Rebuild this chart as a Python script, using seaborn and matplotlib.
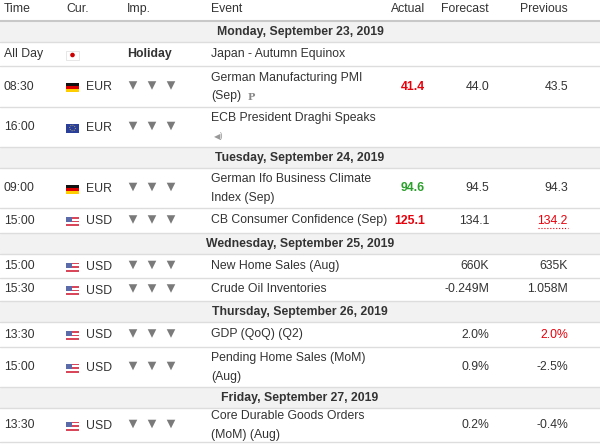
import matplotlib
matplotlib.use("Agg")
import matplotlib.pyplot as plt
import matplotlib.patches as patches
import seaborn as sns
import pandas as pd

sns.set_theme(style="white", font="Liberation Sans")

# data
headers = ["Time", "Cur.", "Imp.", "Event", "Actual", "Forecast", "Previous"]
day_labels = ["Monday, September 23, 2019", "Tuesday, September 24, 2019",
              "Wednesday, September 25, 2019", "Thursday, September 26, 2019",
              "Friday, September 27, 2019"]
row_day = [0, 0, 0, 1, 1, 2, 2, 3, 3, 4]
times = ["All Day", "08:30", "16:00", "09:00", "15:00", "15:00", "15:30", "13:30", "15:00", "13:30"]
flags = ["JP", "DE", "EU", "DE", "US", "US", "US", "US", "US", "US"]
currencies = ["", "EUR", "EUR", "EUR", "USD", "USD", "USD", "USD", "USD", "USD"]
events = ["Japan - Autumn Equinox", "German Manufacturing PMI\n(Sep)", "ECB President Draghi Speaks\n",
          "German Ifo Business Climate\nIndex (Sep)", "CB Consumer Confidence (Sep)",
          "New Home Sales (Aug)", "Crude Oil Inventories", "GDP (QoQ) (Q2)",
          "Pending Home Sales (MoM)\n(Aug)", "Core Durable Goods Orders\n(MoM) (Aug)"]
actuals = ["", "41.4", "", "94.6", "125.1", "", "", "", "", ""]
actual_tone = ["", "bad", "", "good", "bad", "", "", "", "", ""]
forecasts = ["", "44.0", "", "94.5", "134.1", "660K", "-0.249M", "2.0%", "0.9%", "0.2%"]
previous = ["", "43.5", "", "94.3", "134.2", "635K", "1.058M", "2.0%", "-2.5%", "-0.4%"]
previous_tone = ["", "", "", "", "bad", "", "", "bad", "", ""]
row_heights = [24, 41, 40, 40, 25, 24, 23, 25, 40, 34]

df = pd.DataFrame({"day": row_day, "time": times, "flag": flags, "cur": currencies,
                   "event": events, "actual": actuals, "atone": actual_tone,
                   "forecast": forecasts, "previous": previous, "ptone": previous_tone,
                   "h": row_heights})

W, H = 600, 447
fig = plt.figure(figsize=(6, 4.47), dpi=100)
ax = fig.add_axes([0, 0, 1, 1])
ax.set_xlim(0, W)
ax.set_ylim(H, 0)
ax.axis("off")

txt = "#333333"
tone_col = {"bad": "#e8000b", "good": "#2ca02c", "": txt}
fs = 8.8

hx = [4, 66, 127, 211, 425, 489, 568]
for i, h in enumerate(headers):
    ha = "right" if i >= 4 else "left"
    ax.text(hx[i], 9, h, ha=ha, va="center", fontsize=fs, color=txt)
ax.plot([0, W], [20.5, 20.5], color="#c8c8c8", lw=1.5)


def flag(x, y, kind):
    if kind == "DE":
        for k, c in enumerate(["#111111", "#dd0000", "#ffce00"]):
            ax.add_patch(patches.Rectangle((x, y - 4.5 + k * 3), 13, 3, color=c, lw=0))
    elif kind == "EU":
        ax.add_patch(patches.Rectangle((x, y - 4.5), 13, 9, color="#2a3f99", lw=0))
        ax.add_patch(patches.Circle((x + 6.5, y), 2.8, fill=False, ec="#e8d24a", lw=0.6, ls=":"))
    elif kind == "US":
        for k in range(5):
            ax.add_patch(patches.Rectangle((x, y - 4.5 + k * 1.8), 13, 1.8,
                                           color="#d9485a" if k % 2 == 0 else "#ffffff", lw=0))
        ax.add_patch(patches.Rectangle((x, y - 4.5), 6, 5, color="#5b6aa8", lw=0))
    elif kind == "JP":
        ax.add_patch(patches.Rectangle((x, y - 4.5), 13, 9, fc="#ffffff", ec="#dddddd", lw=0.5))
        ax.add_patch(patches.Circle((x + 6.5, y), 2.3, color="#cc0000", lw=0))


y = 21
bull_x, bull_y = [], []
prev_day = -1
for _, r in df.iterrows():
    if r["day"] != prev_day:
        ax.add_patch(patches.Rectangle((0, y), W, 21, color="#f2f2f2", lw=0))
        ax.text(W / 2, y + 11, day_labels[r["day"]], ha="center", va="center",
                fontsize=fs, color=txt, fontweight="bold")
        y += 21
        ax.plot([0, W], [y, y], color="#dddddd", lw=1)
        prev_day = r["day"]
    cy = y + r["h"] / 2
    ax.text(4, cy, r["time"], ha="left", va="center", fontsize=fs, color=txt)
    flag(66, cy + 1, r["flag"])
    if r["cur"]:
        ax.text(86, cy + 1, r["cur"], ha="left", va="center", fontsize=fs, color=txt)
        for k in range(3):
            bull_x.append(133 + k * 19)
            bull_y.append(cy - 1)
    else:
        ax.text(127, cy, "Holiday", ha="left", va="center", fontsize=fs, color=txt, fontweight="bold")
    lines = r["event"].split("\n")
    if len(lines) == 1:
        ax.text(211, cy, lines[0], ha="left", va="center", fontsize=fs, color=txt)
    else:
        ax.text(211, cy - 9, lines[0], ha="left", va="center", fontsize=fs, color=txt)
        ax.text(211, cy + 10, lines[1], ha="left", va="center", fontsize=fs, color=txt)
    ax.text(425, cy, r["actual"], ha="right", va="center", fontsize=fs,
            color=tone_col[r["atone"]], fontweight="bold")
    ax.text(489, cy, r["forecast"], ha="right", va="center", fontsize=fs, color=txt)
    ax.text(568, cy, r["previous"], ha="right", va="center", fontsize=fs, color=tone_col[r["ptone"]])
    if r["ptone"] == "bad" and r["previous"] == "134.2":
        ax.plot([538, 568], [cy + 7, cy + 7], color="#e8000b", lw=0.8, ls=":")
    y += r["h"]
    ax.plot([0, W], [y, y], color="#dddddd", lw=1)

# importance icons
sns.scatterplot(x=bull_x, y=bull_y, marker="v", s=38, color="#7a7a7a",
                edgecolor="none", ax=ax, legend=False)
ax.text(248, 97, "P", fontsize=7, color="#888888", fontweight="bold", family="DejaVu Serif", va="center")
ax.text(214, 137, "\u25c0)", fontsize=6, color="#999999", va="center", family="DejaVu Sans")
ax.set_xlim(0, W)
ax.set_ylim(H, 0)
ax.axis("off")

fig.savefig("out.png", dpi=100)
